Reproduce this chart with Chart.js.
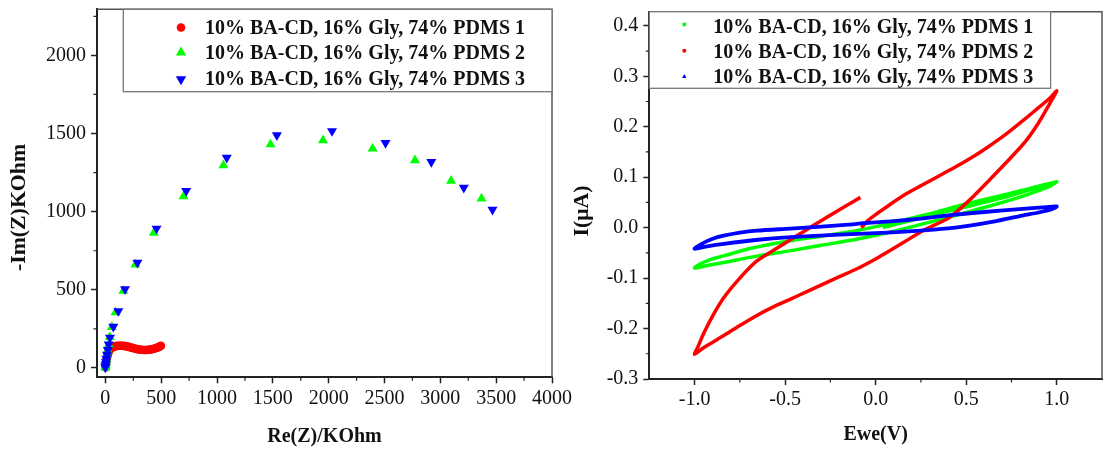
<!DOCTYPE html>
<html>
<head>
<meta charset="utf-8">
<script src="https://cdn.jsdelivr.net/npm/chart.js@4.4.1/dist/chart.umd.min.js"></script>
<style>
  html, body { margin: 0; padding: 0; background: #fff; }
  #wrap { position: relative; width: 1112px; height: 450px; overflow: hidden; background: #fff; }
  #eisChart { position: absolute; left: 0; top: 0; }
  #cvChart { position: absolute; left: 556px; top: 0; }
</style>
</head>
<body>
<div id="wrap">
  <canvas id="eisChart" width="600" height="450" style="width:600px;height:450px"></canvas>
  <canvas id="cvChart" width="556" height="450" style="width:556px;height:450px"></canvas>
</div>
<script>
// ---- data: Nyquist (left) ----
const seriesLabels = [
  '10% BA-CD, 16% Gly, 74% PDMS 1',
  '10% BA-CD, 16% Gly, 74% PDMS 2',
  '10% BA-CD, 16% Gly, 74% PDMS 3'
];

const eisRe1 = [2,5,8,12,16,20,25,30,36,42,50,58,67,76,86,97,108,120,133,146,160,174,188,203,218,233,248,263,278,293,308,323,338,353,368,383,398,412,426,440,453,466,478,489,498];
const eisIm1 = [5,20,38,55,70,82,94,103,111,118,124,129,133,136,138,140,141,142,142,142,141,140,138,136,133,130,127,124,121,119,117,116,115,115,115,116,117,119,121,124,127,130,134,138,142];

const eisRe2 = [0,2,4,7,11,16,22,30,40,58,92,161,269,434,700,1057,1479,1949,2393,2773,3096,3369];
const eisIm2 = [2,10,22,38,58,82,112,150,198,262,356,493,662,864,1098,1297,1430,1456,1404,1329,1197,1084];

const eisRe3 = [0,1,3,6,10,15,22,30,41,71,116,176,287,458,724,1087,1536,2030,2509,2919,3210,3467];
const eisIm3 = [3,12,24,40,60,85,115,150,193,264,364,504,674,892,1133,1346,1489,1516,1440,1318,1154,1013];

const eisXTicks = [0,500,1000,1500,2000,2500,3000,3500,4000];
const eisXMinor = [250,750,1250,1750,2250,2750,3250,3750];
const eisYTicks = [0,500,1000,1500,2000];
const eisYMinor = [250,750,1250,1750,2250];

// ---- data: cyclic voltammetry (right) ----
const cvE1 = [0.04,0.15,0.3,0.45,0.6,0.75,0.88,0.96,1.0,
  0.95,0.88,0.81,0.7,0.5,0.3,0.1,-0.106,-0.3,-0.473,-0.65,-0.839,-0.93,-1.0,
  -0.97,-0.9,-0.839,-0.7,-0.473,-0.3,-0.106,0.05,0.26,0.5,0.65,0.81,0.92,1.0];
const cvI1 = [0.0,0.01,0.024,0.037,0.05,0.064,0.078,0.087,0.091,
  0.08,0.071,0.062,0.05,0.03,0.011,-0.007,-0.023,-0.035,-0.046,-0.056,-0.069,-0.075,-0.08,
  -0.072,-0.062,-0.056,-0.042,-0.026,-0.017,-0.006,0.006,0.024,0.047,0.06,0.074,0.084,0.09];

const cvE2 = [-0.084,-0.17,-0.253,-0.34,-0.44,-0.55,-0.656,-0.75,-0.839,-0.9,-0.95,-0.98,-1.0,
  -0.95,-0.839,-0.75,-0.656,-0.565,-0.473,-0.38,-0.29,-0.2,-0.106,0.0,0.077,0.169,0.26,0.33,0.407,0.52,0.627,0.75,0.83,0.9,0.957,1.0,
  0.96,0.9,0.82,0.75,0.68,0.6,0.535,0.45,0.352,0.26,0.169,0.08,0.004,-0.04,-0.079];
const cvI2 = [0.06,0.042,0.024,0.005,-0.017,-0.042,-0.066,-0.1,-0.139,-0.175,-0.21,-0.235,-0.251,
  -0.238,-0.214,-0.194,-0.174,-0.157,-0.142,-0.127,-0.112,-0.097,-0.082,-0.062,-0.046,-0.026,-0.006,0.006,0.02,0.055,0.094,0.14,0.172,0.208,0.243,0.271,
  0.256,0.238,0.214,0.194,0.175,0.155,0.14,0.122,0.103,0.085,0.067,0.046,0.027,0.015,0.0];

const cvE3 = [-0.07,0.1,0.25,0.44,0.6,0.81,0.92,1.0,
  0.97,0.9,0.81,0.65,0.44,0.2,0.0,-0.2,-0.473,-0.65,-0.839,-0.93,-1.0,
  -0.96,-0.9,-0.839,-0.75,-0.656,-0.473,-0.3,-0.15,-0.07];
const cvI3 = [0.009,0.013,0.018,0.026,0.031,0.037,0.04,0.042,
  0.036,0.03,0.024,0.012,0.0,-0.007,-0.011,-0.014,-0.019,-0.024,-0.032,-0.037,-0.042,
  -0.032,-0.022,-0.016,-0.01,-0.006,-0.002,0.002,0.006,0.009];

const cvXTicks = [-1.0,-0.5,0.0,0.5,1.0];
const cvXMinor = [-0.75,-0.25,0.25,0.75];
const cvYTicks = [-0.3,-0.2,-0.1,0.0,0.1,0.2,0.3,0.4];
const cvYMinor = [-0.25,-0.15,-0.05,0.05,0.15,0.25,0.35];

const RED = '#ff0000', GREEN = '#00ff00', BLUE = '#0000ff';
const SERIF = "'Liberation Serif', 'Times New Roman', serif";

Chart.defaults.font.family = SERIF;
Chart.defaults.color = '#111';

const toPts = (xs, ys) => xs.map((v, i) => ({ x: v, y: ys[i] }));

function axis(min, max, ticks, fmt, size, horizontal, title, titlePad) {
  return {
    type: 'linear',
    min: min,
    max: max,
    afterBuildTicks: s => { s.ticks = ticks.map(v => ({ value: v })); },
    afterFit: s => {
      if (horizontal) { s.height = size; s.paddingLeft = 0; s.paddingRight = 0; }
      else { s.width = size; s.paddingTop = 0; s.paddingBottom = 0; }
    },
    ticks: { callback: v => fmt(v), font: { size: 20 }, color: '#111', padding: horizontal ? 3 : 5, autoSkip: false, maxRotation: 0 },
    grid: { display: true, drawOnChartArea: false, drawTicks: true, tickLength: 6, tickColor: '#222', tickWidth: 1.5 },
    border: { display: true, color: '#222', width: 2 },
    title: title
      ? { display: true, text: title, font: { size: 20, weight: 'bold' }, color: '#111', padding: titlePad }
      : { display: false }
  };
}

function drawMarker(ctx, m, x, y, color) {
  ctx.fillStyle = color;
  ctx.beginPath();
  if (m.style === 'circle') {
    ctx.arc(x, y, m.r, 0, Math.PI * 2);
  } else if (m.style === 'rect') {
    ctx.rect(x - m.r, y - m.r, 2 * m.r, 2 * m.r);
  } else {
    const d = m.down ? -1 : 1;
    ctx.moveTo(x, y - d * m.r);
    ctx.lineTo(x + m.r * 0.866, y + d * m.r * 0.5);
    ctx.lineTo(x - m.r * 0.866, y + d * m.r * 0.5);
    ctx.closePath();
  }
  ctx.fill();
}

// frame, minor ticks, rotated y title and boxed legend
const deco = {
  id: 'deco',
  afterDraw(chart, args, o) {
    const { ctx, chartArea: a, scales: { x, y } } = chart;
    ctx.save();
    ctx.strokeStyle = '#555';
    ctx.lineWidth = 1.5;
    ctx.beginPath();
    ctx.moveTo(a.left, a.top);
    ctx.lineTo(a.right, a.top);
    ctx.lineTo(a.right, a.bottom);
    ctx.stroke();

    ctx.strokeStyle = '#222';
    ctx.lineWidth = 1.2;
    ctx.beginPath();
    o.minorX.forEach(v => { const px = x.getPixelForValue(v); ctx.moveTo(px, a.bottom); ctx.lineTo(px, a.bottom + 3.5); });
    o.minorY.forEach(v => { const py = y.getPixelForValue(v); ctx.moveTo(a.left, py); ctx.lineTo(a.left - 3.5, py); });
    ctx.stroke();

    // the source picture is slightly stretched vertically, so the rotated title runs longer
    ctx.fillStyle = '#111';
    ctx.font = 'bold 20px ' + SERIF;
    ctx.textAlign = 'center';
    ctx.textBaseline = 'middle';
    ctx.translate(o.yTitle.x, o.yTitle.y);
    ctx.rotate(-Math.PI / 2);
    ctx.scale(1.09, 1);
    ctx.fillText(o.yTitle.text, 0, 0);
    ctx.restore();

    const L = o.legend;
    ctx.save();
    ctx.fillStyle = '#fff';
    ctx.fillRect(L.x, L.y, L.w, L.h);
    ctx.strokeStyle = '#777';
    ctx.lineWidth = 1.3;
    ctx.strokeRect(L.x, L.y, L.w, L.h);
    ctx.font = 'bold 20px ' + SERIF;
    ctx.textAlign = 'left';
    ctx.textBaseline = 'alphabetic';
    chart.data.datasets.forEach((ds, i) => {
      drawMarker(ctx, L.markers[i], L.mx, L.rows[i], L.colors[i]);
      ctx.fillStyle = '#111';
      ctx.fillText(ds.label, L.tx, L.base[i]);
    });
    ctx.restore();
  }
};

new Chart(document.getElementById('eisChart'), {
  type: 'scatter',
  data: {
    datasets: [
      { label: seriesLabels[0], data: toPts(eisRe1, eisIm1), pointStyle: 'circle', pointRadius: 4.3, backgroundColor: RED, borderWidth: 0, order: 2 },
      { label: seriesLabels[1], data: toPts(eisRe2, eisIm2), pointStyle: 'triangle', pointRadius: 5.8, backgroundColor: GREEN, borderWidth: 0, order: 1 },
      { label: seriesLabels[2], data: toPts(eisRe3, eisIm3), pointStyle: 'triangle', pointRotation: 180, pointRadius: 5.8, backgroundColor: BLUE, borderWidth: 0, order: 0 }
    ]
  },
  options: {
    responsive: false,
    devicePixelRatio: 1,
    animation: false,
    events: [],
    layout: { padding: { top: 9.3, right: 48, left: 0, bottom: 0 } },
    scales: {
      x: axis(-75, 4000, eisXTicks, v => String(v), 72.7, true, 'Re(Z)/KOhm', { top: 0, bottom: 1.3 }),
      y: axis(-60, 2295, eisYTicks, v => String(v), 97, false, null)
    },
    plugins: {
      legend: { display: false },
      tooltip: { enabled: false },
      deco: {
        minorX: eisXMinor,
        minorY: eisYMinor,
        yTitle: { text: '-Im(Z)KOhm', x: 20, y: 207.5 },
        legend: {
          x: 123.3, y: 9.3, w: 428.7, h: 82.4,
          mx: 181, tx: 205,
          rows: [27.5, 52.5, 79.3],
          base: [33.5, 59, 85.2],
          colors: [RED, GREEN, BLUE],
          markers: [{ style: 'circle', r: 4.3 }, { style: 'tri', r: 6 }, { style: 'tri', r: 6, down: true }]
        }
      }
    }
  },
  plugins: [deco]
});

new Chart(document.getElementById('cvChart'), {
  type: 'scatter',
  data: {
    datasets: [
      { label: seriesLabels[0], data: toPts(cvE1, cvI1), showLine: true, pointRadius: 0, borderColor: GREEN, borderWidth: 3.5, tension: 0.25, fill: false, order: 2 },
      { label: seriesLabels[1], data: toPts(cvE2, cvI2), showLine: true, pointRadius: 0, borderColor: RED, borderWidth: 3.5, tension: 0.25, fill: false, order: 1 },
      { label: seriesLabels[2], data: toPts(cvE3, cvI3), showLine: true, pointRadius: 0, borderColor: BLUE, borderWidth: 3.8, tension: 0.25, fill: false, order: 0 }
    ]
  },
  options: {
    responsive: false,
    devicePixelRatio: 1,
    animation: false,
    events: [],
    layout: { padding: { top: 11.7, right: 10, left: 0, bottom: 0 } },
    scales: {
      x: axis(-1.25, 1.25, cvXTicks, v => v.toFixed(1), 71, true, 'Ewe(V)', { top: 0, bottom: 3 }),
      y: axis(-0.3, 0.428, cvYTicks, v => v.toFixed(1), 93.3, false, null)
    },
    plugins: {
      legend: { display: false },
      tooltip: { enabled: false },
      deco: {
        minorX: cvXMinor,
        minorY: cvYMinor,
        yTitle: { text: 'I(\u03BCA)', x: 27, y: 211 },
        legend: {
          x: 93.3, y: 11.7, w: 401.3, h: 76.6,
          mx: 128.3, tx: 157.3,
          rows: [24.5, 50.7, 76.7],
          base: [32.7, 57.7, 83.3],
          colors: [GREEN, RED, BLUE],
          markers: [{ style: 'rect', r: 1.8 }, { style: 'circle', r: 2 }, { style: 'tri', r: 2.6 }]
        }
      }
    }
  },
  plugins: [deco]
});
</script>
</body>
</html>
